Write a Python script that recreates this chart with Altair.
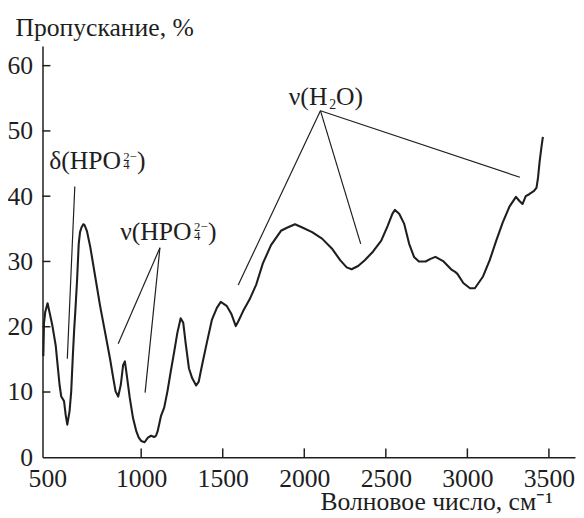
import altair as alt
import pandas as pd

# Spectrum (wavenumber, cm^-1 ; transmission, %)
wavenumber = [400, 404, 412, 426, 440, 456, 476, 490, 500, 510, 527, 537, 547, 561, 571, 581, 589, 597,
              607, 617, 625, 634, 645, 652, 667, 688, 718, 748, 779, 809, 829, 843, 859, 875, 889, 900,
              909, 930, 950, 970, 985, 1000, 1021, 1041, 1061, 1080, 1091, 1101, 1121, 1141, 1161, 1181,
              1202, 1222, 1242, 1258, 1272, 1293, 1313, 1337, 1353, 1373, 1403, 1434, 1464, 1488, 1524,
              1554, 1580, 1595, 1625, 1665, 1706, 1746, 1796, 1857, 1897, 1943, 1988, 2048, 2109, 2169,
              2220, 2260, 2290, 2330, 2371, 2421, 2472, 2512, 2540, 2556, 2582, 2612, 2643, 2673, 2703,
              2744, 2774, 2804, 2854, 2905, 2925, 2939, 2975, 3016, 3046, 3096, 3137, 3177, 3217, 3258,
              3298, 3318, 3338, 3358, 3379, 3409, 3424, 3433, 3443, 3453, 3463]
transmission = [15.5, 20.5, 22.3, 23.6, 22.0, 20.1, 17.1, 13.5, 11.0, 9.3, 8.6, 6.5, 5.0, 7.1, 10.1, 15.6,
                19.5, 22.7, 27.2, 32.7, 34.5, 35.2, 35.7, 35.6, 34.7, 32.2, 27.7, 23.2, 19.1, 15.1, 12.1,
                10.1, 9.3, 11.1, 14.1, 14.7, 13.1, 9.1, 6.0, 4.0, 3.0, 2.5, 2.3, 3.0, 3.3, 3.1, 3.3, 4.0,
                6.3, 7.6, 10.1, 13.1, 16.1, 19.1, 21.3, 20.6, 17.6, 13.6, 12.1, 11.0, 11.6, 14.1, 17.6,
                21.1, 22.9, 23.8, 23.2, 21.9, 20.1, 20.8, 22.4, 24.2, 26.5, 29.7, 32.5, 34.7, 35.2, 35.7,
                35.2, 34.5, 33.5, 32.0, 30.2, 29.1, 28.8, 29.3, 30.2, 31.5, 33.2, 35.5, 37.3, 37.9, 37.3,
                35.8, 32.7, 30.7, 30.0, 30.0, 30.4, 30.7, 30.0, 28.7, 28.4, 28.1, 26.7, 25.9, 25.9, 27.7,
                30.2, 33.2, 36.0, 38.4, 39.9, 39.3, 38.8, 40.0, 40.3, 40.8, 41.3, 42.8, 45.3, 47.3, 49.1]

x_tick_labels = [1000, 1500, 2000, 2500, 3000, 3500]
x_first_label = [500]
x_inner_ticks = [1000, 1500, 2000, 2500, 3000, 3500]
y_tick_labels = [0, 10, 20, 30, 40, 50, 60]
y_inner_ticks = [10, 20, 30, 40, 50, 60]

# Leader lines (start x, start y, end x, end y)
lead_x1 = [593, 1115, 1115, 2099, 2099, 2099]
lead_y1 = [41.5, 32.1, 32.1, 53.1, 53.1, 53.1]
lead_x2 = [547, 859, 1024, 1595, 2346, 3322]
lead_y2 = [15.1, 17.4, 9.9, 26.4, 32.7, 42.9]

# Annotation anchors (left edge, baseline)
ann_names = ["delta", "nuHPO", "nuH2O"]
ann_x = [436, 871, 1905]
ann_y = [44.1, 33.3, 53.9]

FONT = "Liberation Serif, Times New Roman, serif"
FS = 26
INK = "#1e1e1e"
W, H = 540, 417
LABEL_PAD = 9

xs = alt.Scale(domain=[395, 3660], nice=False, zero=False)
ys = alt.Scale(domain=[0, 63], nice=False, zero=True)

common = dict(ticks=False, tickSize=0, labelFlush=False, grid=False,
              domainColor=INK, domainWidth=1.5,
              labelFont=FONT, labelFontSize=FS, labelColor=INK,
              titleFont=FONT, titleFontSize=FS, titleColor=INK, titleFontWeight="normal")

x_axis = alt.Axis(values=x_tick_labels, format="d", labelPadding=LABEL_PAD,
                  title="Волновое число, см⁻¹", titleAlign="right",
                  titleBaseline="alphabetic", titleX=517, titleY=53, **common)
y_axis = alt.Axis(values=y_tick_labels, labelPadding=10,
                  title="Пропускание, %", titleAngle=0, titleAlign="left",
                  titleBaseline="alphabetic", titleX=-28, titleY=-11, **common)

spec = pd.DataFrame({"w": wavenumber, "t": transmission})
leads = pd.DataFrame({"x1": lead_x1, "y1": lead_y1, "x2": lead_x2, "y2": lead_y2})
ann = pd.DataFrame({"name": ann_names, "x": ann_x, "y": ann_y})

line = alt.Chart(spec).mark_line(color=INK, strokeWidth=2.1, strokeJoin="round").encode(
    x=alt.X("w:Q", scale=xs, axis=x_axis),
    y=alt.Y("t:Q", scale=ys, axis=y_axis),
    order="w:Q",
)

ytk = alt.Chart(pd.DataFrame({"v": y_inner_ticks})).mark_rule(color=INK, strokeWidth=1.5).encode(
    y=alt.Y("v:Q", scale=ys, axis=y_axis), x=alt.value(0), x2=alt.value(8))
xtk = alt.Chart(pd.DataFrame({"v": x_inner_ticks})).mark_rule(color=INK, strokeWidth=1.5).encode(
    x=alt.X("v:Q", scale=xs, axis=x_axis), y=alt.value(H), y2=alt.value(H - 9))

# first x label ("500"), set slightly left of its position as in the original
first_lbl = alt.Chart(pd.DataFrame({"v": x_first_label})).mark_text(
    font=FONT, fontSize=FS, color=INK, align="center", baseline="top", dx=-12).encode(
    x=alt.X("v:Q", scale=xs, axis=x_axis), y=alt.value(H + LABEL_PAD), text=alt.Text("v:Q", format="d"))

lead = alt.Chart(leads).mark_rule(color=INK, strokeWidth=1.2).encode(
    x=alt.X("x1:Q", scale=xs, axis=x_axis), y=alt.Y("y1:Q", scale=ys, axis=y_axis),
    x2="x2:Q", y2="y2:Q")


def piece(name, text, dx=0, dy=0, size=FS):
    return alt.Chart(ann).transform_filter(alt.datum.name == name).mark_text(
        text=text, font=FONT, fontSize=size, color=INK, align="left", baseline="alphabetic",
        dx=dx, dy=dy).encode(
        x=alt.X("x:Q", scale=xs, axis=x_axis), y=alt.Y("y:Q", scale=ys, axis=y_axis))


texts = []
for nm, head in [("delta", "δ(HPO"), ("nuHPO", "ν(HPO")]:
    texts += [piece(nm, head), piece(nm, "2−", dx=75, dy=-9, size=13),
              piece(nm, "4", dx=75, dy=0, size=13), piece(nm, ")", dx=89)]
texts += [piece("nuH2O", "ν(H"), piece("nuH2O", "2", dx=41, dy=4, size=14),
          piece("nuH2O", "O)", dx=48)]

chart = alt.layer(line, ytk, xtk, first_lbl, lead, *texts).properties(
    width=W, height=H,
    autosize=alt.AutoSizeParams(type="none"),
    padding={"left": 35, "top": 35, "right": 1, "bottom": 60},
    background="white",
).configure_view(stroke=None)

chart.save("out.html", embed_options={"renderer": "svg", "actions": False})
